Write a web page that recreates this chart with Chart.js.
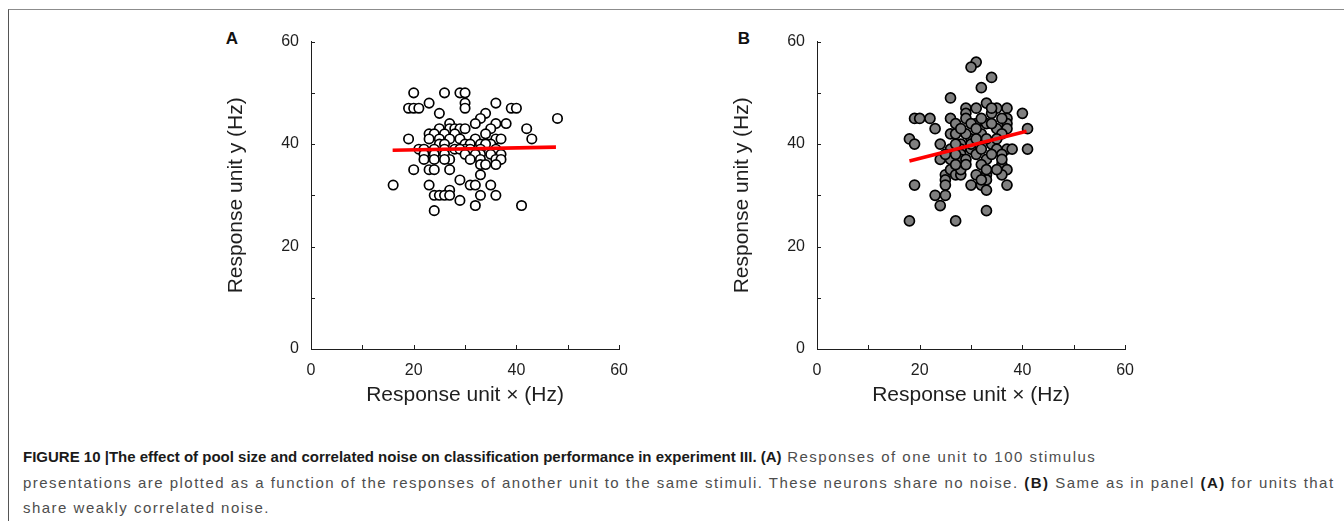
<!DOCTYPE html>
<html>
<head>
<meta charset="utf-8">
<script src="https://cdn.jsdelivr.net/npm/chart.js@4.4.1/dist/chart.umd.min.js"></script>
<style>
  html, body { margin: 0; padding: 0; background: #fff; }
  body { position: relative; width: 1344px; height: 521px; overflow: hidden;
         font-family: "Liberation Sans", Arial, sans-serif; }
  .frame { position: absolute; left: 8px; top: 9px; right: -4px; bottom: -4px;
           border-top: 1.5px solid #8c8c8c; border-left: 1.5px solid #555; }
  .panel { position: absolute; top: 20px; width: 440px; height: 400px; }
  .tag { position: absolute; font-weight: bold; font-size: 17px; color: #111;
         line-height: 20px; transform: translate(-50%, -50%); }
  .cap { position: absolute; left: 23px; white-space: nowrap; font-size: 15px;
         line-height: 20px; color: #4d4d4d; }
  .cap b { color: #1a1a1a; }
  .cap b.head { letter-spacing: 0 !important; }
</style>
</head>
<body>
<div class="frame"></div>

<div class="tag" style="left:232px; top:39px;">A</div>
<div class="tag" style="left:744px; top:39px;">B</div>

<div class="panel" style="left:200px;"><canvas id="panel-a" width="440" height="400"></canvas></div>
<div class="panel" style="left:706px;"><canvas id="panel-b" width="440" height="400"></canvas></div>

<div class="cap" style="top:447px;"><b class="head">FIGURE 10 |The effect of pool size and correlated noise on classification performance in experiment III. (A)</b> Responses of one unit to 100 stimulus</div>
<div class="cap" id="cap-wide" style="top:473px;">presentations are plotted as a function of the responses of another unit to the same stimuli. These neurons share no noise. <b>(B)</b> Same as in panel <b>(A)</b> for units that</div>
<div class="cap" style="top:498px;">share weakly correlated noise.</div>

<script>
// axis ticks (labels only every 20 Hz, marks every 10 Hz)
const TICKS_MAJOR = [0, 20, 40, 60];
const AXIS_MIN = 0;
const AXIS_MAX = 60;
const X_TITLE = "Response unit \u00d7 (Hz)";
const Y_TITLE = "Response unit y (Hz)";

// A: no shared noise (100 presentations, unit x / unit y in Hz)
const aX = [
  20, 26, 29, 30,
  23, 30, 36,
  19, 20, 21, 30, 39, 40,
  25, 34,
  33, 48,
  27, 32, 36, 38,
  25, 27, 28, 29, 30, 35, 42,
  23, 26, 34, 24, 28,
  19, 23, 27, 32, 36, 37, 43, 25, 29,
  25, 30, 35, 33, 26, 31, 34,
  21, 22, 24, 26, 28, 30, 33, 36, 31, 29,
  22, 26, 30, 33, 37, 32, 35, 24,
  22, 24, 27, 31, 33, 36, 37, 26,
  33, 34, 36,
  20, 23, 24, 27,
  33,
  29,
  16, 23, 31, 32, 35,
  27,
  24, 25, 26, 27, 33, 36,
  29,
  32, 41,
  24,
];
const aY = [
  50, 50, 50, 50,
  48, 48, 48,
  47, 47, 47, 47, 47, 47,
  46, 46,
  45, 45,
  44, 44, 44, 44,
  43, 43, 43, 43, 43, 43, 43,
  42, 42, 42, 42, 42,
  41, 41, 41, 41, 41, 41, 41, 41, 41,
  40, 40, 40, 40, 40, 40, 40,
  39, 39, 39, 39, 39, 39, 39, 39, 39, 39,
  38, 38, 38, 38, 38, 38, 38, 38,
  37, 37, 37, 37, 37, 37, 37, 37,
  36, 36, 36,
  35, 35, 35, 35,
  34,
  33,
  32, 32, 32, 32, 32,
  31,
  30, 30, 30, 30, 30, 30,
  29,
  28, 28,
  27,
];
// A: least-squares fit, drawn over the x range of the data
const aFitX = [15.9, 47.7];
const aFitY = [38.8, 39.4];

// B: weakly correlated noise
const bX = [
  31, 30, 34, 32, 26, 29, 31, 33, 37, 29,
  35, 19, 20, 22, 34, 37, 40, 26, 29, 31,
  33, 37, 27, 30, 23, 26, 35, 37, 41, 27,
  32, 18, 19, 28, 30, 24, 34, 26, 28, 30,
  35, 37, 38, 41, 28, 36, 24, 26, 28, 33,
  32, 36, 37, 25, 26, 27, 28, 31, 33, 36,
  25, 19, 25, 30, 32, 33, 37, 33, 23, 25,
  24, 33, 18, 27, 31, 32, 34, 36, 33, 29,
  27, 25, 29, 31, 34, 36, 35, 33, 32, 28,
  27, 30, 31, 34, 36, 28, 27, 32, 35, 29,
];
const bY = [
  56, 55, 53, 51, 49, 47, 47, 48, 47, 46,
  47, 45, 45, 45, 46, 45, 46, 45, 45, 44,
  44, 44, 44, 44, 43, 42, 43, 43, 43, 42,
  42, 41, 40, 40, 41, 40, 40, 39, 39, 39,
  39, 39, 39, 39, 38, 38, 37, 37, 37, 37,
  36, 36, 35, 34, 35, 34, 34, 34, 34, 34,
  33, 32, 32, 32, 32, 33, 32, 31, 30, 30,
  28, 27, 25, 25, 43, 45, 44, 42, 41, 42,
  40, 38, 37, 38, 38, 37, 35, 35, 33, 35,
  36, 40, 41, 47, 45, 43, 38, 39, 41, 36,
];
const bFitX = [18.0, 40.8];
const bFitY = [36.7, 42.5];

const FONT = "'Liberation Sans', Arial, sans-serif";
const INK  = "#1e1e1e";

// short inward tick marks on both axes, every 10 Hz
const innerTicks = {
  id: "innerTicks",
  afterDatasetsDraw(chart) {
    const { ctx, chartArea, scales } = chart;
    ctx.save();
    ctx.strokeStyle = INK;
    ctx.lineWidth = 1;
    ctx.beginPath();
    scales.x.ticks.forEach(t => {
      const px = Math.round(scales.x.getPixelForValue(t.value)) + 0.5;
      ctx.moveTo(px, chartArea.bottom);
      ctx.lineTo(px, chartArea.bottom - 4);
    });
    scales.y.ticks.forEach(t => {
      const py = Math.round(scales.y.getPixelForValue(t.value)) + 0.5;
      ctx.moveTo(chartArea.left, py);
      ctx.lineTo(chartArea.left + 4, py);
    });
    ctx.stroke();
    ctx.restore();
  },
};

function toPoints(xs, ys) {
  return xs.map((x, i) => ({ x, y: ys[i] }));
}

function axis(title, isY) {
  return {
    type: "linear",
    min:  AXIS_MIN,
    max:  AXIS_MAX,
    grid:   { display: false, drawTicks: false },
    border: { display: true, color: INK, width: 1 },
    ticks: {
      stepSize: 10,
      padding:  12,
      color:    INK,
      font:     { family: FONT, size: 16 },
      callback: v => TICKS_MAJOR.includes(v) ? String(v) : "",
    },
    title: {
      display: true,
      text:    title,
      color:   INK,
      font:    { family: FONT, size: 21 },
      padding: isY ? { top: 24, bottom: 0 } : { top: 0, bottom: 12 },
    },
    afterFit: s => {
      if (isY) s.width = 111; else s.height = 71;
    },
  };
}

function makePanel(id, xs, ys, fitX, fitY, fill, radius) {
  return new Chart(document.getElementById(id), {
    type: "scatter",
    data: {
      datasets: [
        {
          // fit line first so it is painted over the points
          type:        "line",
          data:        toPoints(fitX, fitY),
          borderColor: "#ff0000",
          borderWidth: 3.6,
          pointRadius: 0,
          fill:        false,
        },
        {
          data:            toPoints(xs, ys),
          pointRadius:     radius,
          borderWidth:     1.7,
          borderColor:     "#000",
          backgroundColor: fill,
        },
      ],
    },
    options: {
      responsive:       false,
      animation:        false,
      devicePixelRatio: 1,
      layout:  { padding: { left: 0, top: 18, right: 19, bottom: 0 } },
      plugins: { legend: { display: false }, tooltip: { enabled: false } },
      scales:  { x: axis(X_TITLE, false), y: axis(Y_TITLE, true) },
    },
    plugins: [innerTicks],
  });
}

makePanel("panel-a", aX, aY, aFitX, aFitY, "#ffffff", 4.7);
makePanel("panel-b", bX, bY, bFitX, bFitY, "#7f7f7f", 5.0);

// spread the caption body so its longest line runs to the right edge;
// the bold heading keeps its natural, tighter setting
(function fitCaption() {
  const wide  = document.getElementById("cap-wide");
  const chars = wide.textContent.length;
  const extra = (1311 - wide.getBoundingClientRect().width) / chars;
  document.querySelectorAll(".cap").forEach(el => {
    el.style.letterSpacing = extra.toFixed(2) + "px";
  });
})();
</script>
</body>
</html>
